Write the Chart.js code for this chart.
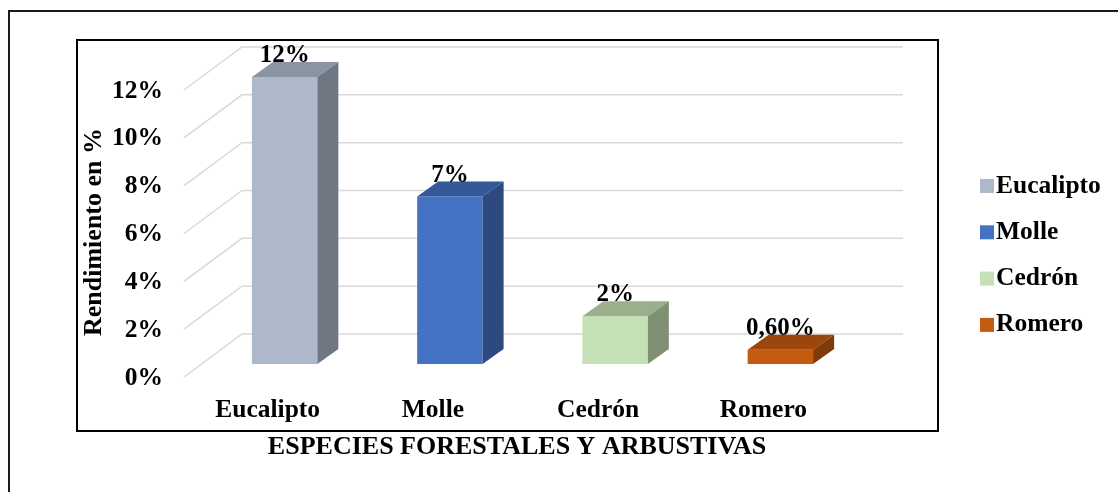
<!DOCTYPE html>
<html>
<head>
<meta charset="utf-8">
<title>Rendimiento por especie</title>
<script src="https://cdn.jsdelivr.net/npm/chart.js@4.4.1/dist/chart.umd.min.js"></script>
<style>
  html, body { margin: 0; padding: 0; background: #fff; }
  canvas { display: block; }
</style>
</head>
<body>
<canvas id="chart" width="1118" height="492"></canvas>
<script>
// datos
const especies = ['Eucalipto', 'Molle', 'Cedrón', 'Romero'];
const rendimiento = [12, 7, 2, 0.6];
const yTicks = [0, 2, 4, 6, 8, 10, 12];

// colores: cara frontal, cara superior, cara lateral
const frontColors = ['#ADB9CA', '#4472C4', '#C5E0B4', '#C55A11'];
const topColors = ['#8A94A3', '#34589A', '#9AAF8C', '#9A460D'];
const sideColors = ['#6F7783', '#2C4A7E', '#7F9074', '#7E3A0B'];

const FONT = 'Liberation Serif';
const BAR_DX = 21, BAR_DY = -15;      // profundidad de las barras
const WALL_DX = 58, WALL_DY = -43;    // profundidad del piso
const FRONT_X = -18, FRONT_Y = 13;    // borde frontal del piso

const fmtPct = v => Number.isInteger(v) ? v + '%' : v.toFixed(2).replace('.', ',') + '%';

// lineas de cuadricula en perspectiva
const grid3d = {
  id: 'grid3d',
  beforeDatasetsDraw(chart) {
    const { ctx, chartArea: a, scales: { y } } = chart;
    ctx.save();
    ctx.strokeStyle = '#D9D9D9';
    ctx.lineWidth = 1.5;
    y.ticks.forEach(t => {
      const py = y.getPixelForValue(t.value);
      const fx = a.left + FRONT_X, fy = py + FRONT_Y;
      ctx.beginPath();
      ctx.moveTo(fx, fy);
      ctx.lineTo(fx + WALL_DX, fy + WALL_DY);
      ctx.lineTo(a.right + FRONT_X + WALL_DX, fy + WALL_DY);
      ctx.stroke();
    });
    ctx.restore();
  }
};

// caras superior y lateral + etiquetas de valor
const bars3d = {
  id: 'bars3d',
  afterDatasetsDraw(chart) {
    const { ctx } = chart;
    const meta = chart.getDatasetMeta(0);
    ctx.save();
    meta.data.forEach((bar, i) => {
      const l = bar.x - bar.width / 2, r = bar.x + bar.width / 2;
      const t = bar.y, b = bar.base;
      ctx.fillStyle = topColors[i];
      ctx.beginPath();
      ctx.moveTo(l, t);
      ctx.lineTo(l + BAR_DX, t + BAR_DY);
      ctx.lineTo(r + BAR_DX, t + BAR_DY);
      ctx.lineTo(r, t);
      ctx.closePath();
      ctx.fill();
      ctx.fillStyle = sideColors[i];
      ctx.beginPath();
      ctx.moveTo(r, t);
      ctx.lineTo(r + BAR_DX, t + BAR_DY);
      ctx.lineTo(r + BAR_DX, b + BAR_DY);
      ctx.lineTo(r, b);
      ctx.closePath();
      ctx.fill();
    });
    ctx.fillStyle = '#000';
    ctx.font = 'bold 25px "' + FONT + '"';
    ctx.textAlign = 'center';
    ctx.textBaseline = 'alphabetic';
    meta.data.forEach((bar, i) => {
      ctx.fillText(fmtPct(rendimiento[i]), bar.x, bar.y - 15);
    });
    ctx.restore();
  }
};

// marcos, titulos de ejes y leyenda
const frame = {
  id: 'frame',
  afterDraw(chart) {
    const { ctx } = chart;
    ctx.save();
    ctx.strokeStyle = '#1a1a1a';
    ctx.lineWidth = 2;
    ctx.beginPath();
    ctx.moveTo(9, 492);
    ctx.lineTo(9, 11);
    ctx.lineTo(1118, 11);
    ctx.stroke();
    ctx.strokeStyle = '#000';
    ctx.strokeRect(77, 40, 861, 391);

    ctx.fillStyle = '#000';
    ctx.font = 'bold 26px "' + FONT + '"';
    ctx.textAlign = 'center';
    ctx.textBaseline = 'middle';
    ctx.fillText('ESPECIES FORESTALES Y ARBUSTIVAS', 517, 447);
    ctx.save();
    ctx.translate(94, 232);
    ctx.rotate(-Math.PI / 2);
    ctx.fillText('Rendimiento en %', 0, 0);
    ctx.restore();

    ctx.font = 'bold 25.5px "' + FONT + '"';
    ctx.textAlign = 'left';
    especies.forEach((name, i) => {
      const cy = 186 + i * 46.3;
      ctx.fillStyle = frontColors[i];
      ctx.fillRect(980, cy - 7, 14, 14);
      ctx.fillStyle = '#000';
      ctx.fillText(name, 996, cy);
    });
    ctx.restore();
  }
};

new Chart(document.getElementById('chart'), {
  type: 'bar',
  data: {
    labels: especies,
    datasets: [{
      label: 'Rendimiento',
      data: rendimiento,
      backgroundColor: frontColors,
      borderWidth: 0,
      categoryPercentage: 1,
      barPercentage: 0.396,
      clip: false
    }]
  },
  options: {
    responsive: false,
    animation: false,
    layout: { padding: { top: 77, left: 70, right: 255, bottom: 28 } },
    plugins: {
      legend: { display: false },
      tooltip: { enabled: false }
    },
    scales: {
      x: {
        grid: { display: false, drawTicks: false },
        border: { display: false },
        ticks: {
          color: '#000',
          font: { family: FONT, size: 25.5, weight: 'bold' },
          padding: 31,
          labelOffset: -17,
          maxRotation: 0
        },
        afterFit: s => { s.height = 100; }
      },
      y: {
        min: 0,
        max: 12,
        grid: { display: false, drawTicks: false },
        border: { display: false },
        afterBuildTicks: s => { s.ticks = yTicks.map(v => ({ value: v })); },
        ticks: {
          color: '#000',
          font: { family: FONT, size: 25.5, weight: 'bold' },
          padding: 39,
          labelOffset: 14,
          callback: v => v + '%'
        },
        afterFit: s => { s.width = 132; }
      }
    }
  },
  plugins: [grid3d, bars3d, frame]
});
</script>
</body>
</html>
